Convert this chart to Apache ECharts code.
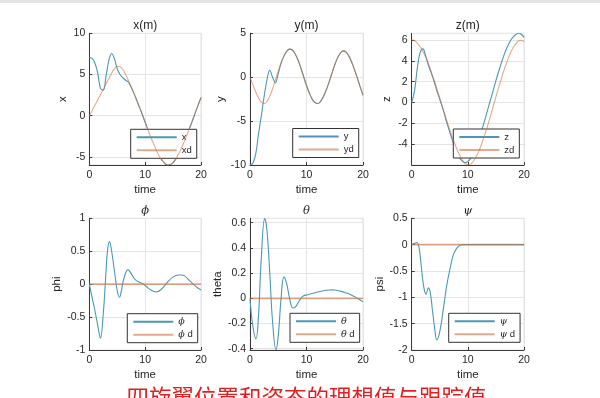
<!DOCTYPE html>
<html>
<head>
<meta charset="utf-8">
<script src="https://cdn.jsdelivr.net/npm/echarts@6/dist/echarts.min.js"></script>
<style>
html, body { margin: 0; padding: 0; background: #fff; }
#chart { width: 600px; height: 398px; }
</style>
</head>
<body>
<div id="chart"></div>
<script>
// time samples for the position plots
let tPos = [0, 0.5, 1, 1.5, 2, 2.5, 3, 3.5, 4, 4.5, 5, 5.5, 6, 6.5, 7, 7.5, 8, 8.5, 9, 9.5, 10,
    10.5, 11, 11.5, 12, 12.5, 13, 13.5, 14, 14.5, 15, 15.5, 16, 16.5, 17, 17.5, 18, 18.5, 19, 19.5, 20];

let xAct = [7.05, 6.95, 6.4, 5.2, 3.3, 3.1, 4.8, 6.7, 7.55, 6.9, 5.7, 5.0, 4.6, 4.3, 4.05, 3.45, 2.7, 1.85, 1.0, 0.1, -0.8,
    -1.7, -2.6, -3.4, -4.2, -4.9, -5.4, -5.8, -6.0, -5.95, -5.7, -5.25, -4.65, -3.95, -3.15, -2.3, -1.45, -0.55, 0.4, 1.3, 2.2];
let xDes = [0, 0.6, 1.25, 1.9, 2.55, 3.2, 3.85, 4.5, 5.15, 5.7, 6.0, 5.95, 5.6, 5.0, 4.3, 3.5, 2.7, 1.85, 1.0, 0.1, -0.8,
    -1.7, -2.6, -3.4, -4.2, -4.9, -5.4, -5.8, -6.0, -5.95, -5.7, -5.25, -4.65, -3.95, -3.15, -2.3, -1.45, -0.55, 0.4, 1.3, 2.2];

let yAct = [-10, -9.8, -8.8, -6.5, -4.4, -2.2, -0.3, 0.8, 0.0, -0.65, 0.4, 1.6, 2.4, 2.95, 3.2, 3.1, 2.65, 1.95, 1.05, 0.05, -0.95,
    -1.8, -2.5, -2.9, -3.0, -2.75, -2.2, -1.45, -0.55, 0.45, 1.4, 2.2, 2.75, 3.0, 2.85, 2.4, 1.7, 0.85, -0.1, -1.1, -2.05];
let yDes = [0, -0.85, -1.65, -2.35, -2.85, -3.0, -2.75, -2.15, -1.3, -0.3, 0.7, 1.65, 2.4, 2.95, 3.2, 3.1, 2.65, 1.95, 1.05, 0.05, -0.95,
    -1.8, -2.5, -2.9, -3.0, -2.75, -2.2, -1.45, -0.55, 0.45, 1.4, 2.2, 2.75, 3.0, 2.85, 2.4, 1.7, 0.85, -0.1, -1.1, -2.05];

let zAct = [0, 1.1, 3.3, 4.8, 5.15, 4.45, 3.55, 2.8, 2.0, 1.1, 0.3, -0.5, -1.45, -2.35, -3.2, -4.0, -4.7, -5.25, -5.6, -5.75, -5.65,
    -5.35, -4.85, -4.2, -3.45, -2.6, -1.7, -0.75, 0.2, 1.15, 2.1, 3.0, 3.85, 4.65, 5.3, 5.85, 6.25, 6.5, 6.64, 6.55, 6.25];
let zDes = [6.0, 5.95, 5.7, 5.35, 4.9, 4.35, 3.7, 2.95, 2.15, 1.3, 0.45, -0.45, -1.3, -2.15, -2.95, -3.7, -4.4, -5.0, -5.5, -5.85, -5.97,
    -5.9, -5.6, -5.15, -4.6, -3.9, -3.1, -2.25, -1.35, -0.4, 0.55, 1.45, 2.35, 3.2, 3.95, 4.65, 5.2, 5.6, 5.9, 5.98, 5.85];

// attitude plots
let tPhi = [0, 0.5, 1, 1.5, 1.75, 2, 2.5, 3, 3.25, 3.6, 4, 4.5, 5, 5.4, 5.75, 6, 6.5, 6.9, 7.5, 8, 8.5, 9, 9.5, 10, 11, 12, 13, 14, 15, 16, 16.5, 17, 18, 19, 20];
let phiAct = [0, -0.2, -0.4, -0.62, -0.74, -0.82, -0.45, 0.2, 0.5, 0.65, 0.5, 0.2, -0.1, -0.2, -0.1, 0.02, 0.17, 0.22, 0.16, 0.09, 0.05, 0.03, 0.01, -0.02, -0.09, -0.12, -0.07, 0.03, 0.11, 0.14, 0.14, 0.13, 0.05, -0.03, -0.09];

let tTheta = [0, 0.5, 1.06, 1.5, 2, 2.6, 3, 3.5, 4, 4.6, 5, 5.5, 6, 6.5, 7, 7.6, 8, 8.5, 9, 9.5, 10, 11, 12, 13, 14, 14.5, 15, 16, 17, 18, 19, 20];
let thetaAct = [0, -0.22, -0.32, -0.14, 0.32, 0.635, 0.54, 0.2, -0.19, -0.41, -0.3, 0.0, 0.17, 0.115, 0.0, -0.077, -0.07, -0.035, 0.0, 0.02, 0.027, 0.038, 0.05, 0.06, 0.066, 0.067, 0.066, 0.057, 0.043, 0.025, 0.0, -0.028];

let tPsi = [0, 0.4, 0.9, 1.3, 1.6, 2, 2.3, 2.55, 2.97, 3.3, 3.7, 4.1, 4.46, 5, 5.65, 6.2, 6.84, 7.4, 8, 8.6, 9.2, 10, 20];
let psiAct = [0, 0.02, 0.04, -0.05, -0.3, -0.7, -0.88, -0.94, -0.82, -0.9, -1.25, -1.6, -1.81, -1.65, -1.21, -0.8, -0.45, -0.2, -0.07, -0.01, 0, 0, 0];

let tRef = [0, 20];
let attDes = [0, 0];

// tick labels
let timeTicks = [0, 10, 20];
let xTicks = [-5, 0, 5, 10];
let yTicks = [-10, -5, 0, 5];
let zTicks = [-4, -2, 0, 2, 4, 6];
let phiTicks = [-1, -0.5, 0, 0.5, 1];
let thetaTicks = [-0.4, -0.2, 0, 0.2, 0.4, 0.6];
let psiTicks = [-2, -1.5, -1, -0.5, 0, 0.5];

const ACT_COLOR = '#4a98b5';
const DES_COLOR = '#d07040';
const AXIS_COLOR = '#3a3a3a';
const TEXT_COLOR = '#262626';
const FONT = 'Liberation Sans, Arial, sans-serif';

function zip(t, v) {
    let out = [];
    for (let i = 0; i < t.length; i++) out.push([t[i], v[i]]);
    return out;
}

let panels = [
    { title: 'x(m)', ylabel: 'x', names: ['x', 'xd'], act: zip(tPos, xAct), des: zip(tPos, xDes),
      ymin: -6, ymax: 10, ticks: xTicks, left: 89.3, top: 33.3, width: 111.7, nameGap: 20, lx: 130.7, ly: 129.3 },
    { title: 'y(m)', ylabel: 'y', names: ['y', 'yd'], act: zip(tPos, yAct), des: zip(tPos, yDes),
      ymin: -10, ymax: 5, ticks: yTicks, left: 250, top: 33.3, width: 113, nameGap: 22.5, lx: 292.7, ly: 128.5 },
    { title: 'z(m)', ylabel: 'z', names: ['z', 'zd'], act: zip(tPos, zAct), des: zip(tPos, zDes),
      ymin: -5.98, ymax: 6.64, ticks: zTicks, left: 411.7, top: 33.3, width: 112.3, nameGap: 19, lx: 453.3, ly: 129 },
    { title: 'ϕ', greek: true, ylabel: 'phi', names: ['ϕ', 'ϕ d'], act: zip(tPhi, phiAct), des: zip(tRef, attDes),
      ymin: -1, ymax: 1, ticks: phiTicks, left: 89.3, top: 218.3, width: 111.7, nameGap: 21, lx: 127.3, ly: 313.7 },
    { title: 'θ', greek: true, ylabel: 'theta', names: ['θ', 'θ d'], act: zip(tTheta, thetaAct), des: zip(tRef, attDes),
      ymin: -0.41, ymax: 0.635, ticks: thetaTicks, left: 250, top: 218.3, width: 113, nameGap: 22, lx: 290, ly: 313.3 },
    { title: 'ψ', greek: true, ylabel: 'psi', names: ['ψ', 'ψ d'], act: zip(tPsi, psiAct), des: zip(tRef, attDes),
      ymin: -2, ymax: 0.5, ticks: psiTicks, left: 411.7, top: 218.3, width: 112.3, nameGap: 26, lx: 448.7, ly: 313.3 }
];

let grids = [], xAxes = [], yAxes = [], series = [], legends = [], graphics = [];

graphics.push({ type: 'rect', left: 0, top: 0, shape: { width: 600, height: 3 }, style: { fill: '#e4e4e4' }, silent: true });

panels.forEach(function(p, i) {
    grids.push({
        left: p.left, top: p.top, width: p.width, height: 131.7,
        show: true, borderColor: '#e2e2e2', borderWidth: 1, backgroundColor: 'transparent'
    });
    xAxes.push({
        type: 'value', gridIndex: i, min: 0, max: 20,
        name: 'time', nameLocation: 'middle', nameGap: 19,
        nameTextStyle: { fontFamily: FONT, fontSize: 11.5, color: TEXT_COLOR },
        axisLine: { show: true, onZero: false, lineStyle: { color: AXIS_COLOR, width: 1 } },
        axisTick: { show: true, inside: true, length: 3, customValues: timeTicks, lineStyle: { color: AXIS_COLOR } },
        axisLabel: { customValues: timeTicks, margin: 5, fontFamily: FONT, fontSize: 10.5, color: TEXT_COLOR },
        splitLine: { show: true, lineStyle: { color: '#e4e4e4', width: 1 } }
    });
    yAxes.push({
        type: 'value', gridIndex: i, min: p.ymin, max: p.ymax,
        name: p.ylabel, nameLocation: 'middle', nameGap: p.nameGap,
        nameTextStyle: { fontFamily: FONT, fontSize: 11.5, color: TEXT_COLOR },
        axisLine: { show: true, onZero: false, lineStyle: { color: AXIS_COLOR, width: 1 } },
        axisTick: { show: true, inside: true, length: 3, customValues: p.ticks, lineStyle: { color: AXIS_COLOR } },
        axisLabel: { customValues: p.ticks, margin: 4, fontFamily: FONT, fontSize: 10.5, color: TEXT_COLOR },
        splitLine: { show: true, lineStyle: { color: '#e4e4e4', width: 1 } }
    });
    series.push({
        name: p.names[0], type: 'line', xAxisIndex: i, yAxisIndex: i,
        data: p.act, smooth: 0.4, symbol: 'none', z: 3,
        lineStyle: { color: ACT_COLOR, width: 1.1 }, itemStyle: { color: ACT_COLOR }
    });
    series.push({
        name: p.names[1], type: 'line', xAxisIndex: i, yAxisIndex: i,
        data: p.des, smooth: 0.4, symbol: 'none', z: 4,
        lineStyle: { color: DES_COLOR, width: p.greek ? 1.6 : 1.1, opacity: 0.6 }, itemStyle: { color: DES_COLOR, opacity: 0.6 }
    });
    legends.push({
        data: p.names, left: p.lx, top: p.ly, orient: 'vertical',
        backgroundColor: '#fff', borderColor: '#333', borderWidth: 1,
        padding: [3, 5, 3, 5], itemWidth: 40, itemHeight: 10, itemGap: 3,
        selectedMode: false,
        itemStyle: { opacity: 0, borderWidth: 0 },
        textStyle: {
            fontFamily: FONT, fontSize: 9.5, color: TEXT_COLOR,
            rich: { g: { fontFamily: 'DejaVu Serif', fontStyle: 'italic', fontSize: 9.5, color: TEXT_COLOR } }
        },
        formatter: function(name) {
            if (p.greek) return '{g|' + name.charAt(0) + '}' + name.slice(1);
            return name;
        }
    });
    graphics.push({
        type: 'text', x: p.left + p.width / 2, y: p.greek ? p.top - 7 : p.top - 7.5,
        style: {
            text: p.title, textAlign: 'center', textVerticalAlign: 'middle',
            fontFamily: p.greek ? 'DejaVu Serif' : FONT, fontStyle: p.greek ? 'italic' : 'normal',
            fontSize: p.greek ? 11.5 : 12, fill: TEXT_COLOR
        }
    });
});

graphics.push({
    type: 'text', x: 306.5, y: 386,
    style: {
        text: '四旋翼位置和姿态的理想值与跟踪值', textAlign: 'center', textVerticalAlign: 'top',
        fontFamily: 'Noto Sans CJK SC', fontSize: 22.5, fill: '#e41e1e'
    }
});

let chart = echarts.init(document.getElementById('chart'));
chart.setOption({
    backgroundColor: '#fff',
    animation: false,
    grid: grids,
    xAxis: xAxes,
    yAxis: yAxes,
    legend: legends,
    series: series,
    graphic: graphics
});
</script>
</body>
</html>
